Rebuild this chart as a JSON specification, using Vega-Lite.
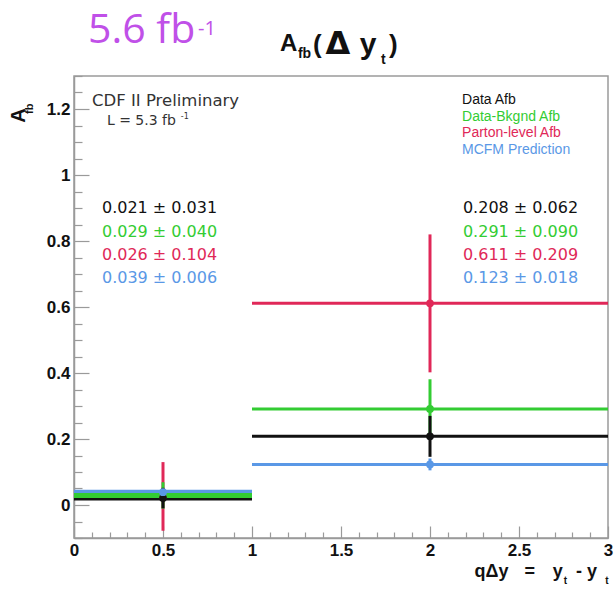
{
"$schema": "https://vega.github.io/schema/vega-lite/v6.json",
"width": 534,
"height": 462,
"autosize": {"type": "none"},
"padding": {"left": 74, "top": 76, "right": 7, "bottom": 54},
"background": "white",
"config": {
  "font": "Liberation Sans",
  "view": {"stroke": "#9a9a9a", "strokeWidth": 1.5},
  "axis": {"grid": false, "domainColor": "#9a9a9a", "domainWidth": 1.5, "tickColor": "#9a9a9a", "tickWidth": 1.2, "labelFont": "Liberation Sans", "labelFontWeight": "bold", "labelFontSize": 17, "labelColor": "#111111", "labelOverlap": false, "labelFlush": false}
},
"datasets": {
  "afb": [
    {"series": "Parton-level Afb", "bin": "1", "x": 0.5, "xlo": 0, "xhi": 1, "A": 0.026, "err": 0.104},
    {"series": "Parton-level Afb", "bin": "2", "x": 2, "xlo": 1, "xhi": 3, "A": 0.611, "err": 0.209},
    {"series": "MCFM Prediction", "bin": "1", "x": 0.5, "xlo": 0, "xhi": 1, "A": 0.039, "err": 0.006},
    {"series": "MCFM Prediction", "bin": "2", "x": 2, "xlo": 1, "xhi": 3, "A": 0.123, "err": 0.018},
    {"series": "Data Afb", "bin": "1", "x": 0.5, "xlo": 0, "xhi": 1, "A": 0.021, "err": 0.031},
    {"series": "Data Afb", "bin": "2", "x": 2, "xlo": 1, "xhi": 3, "A": 0.208, "err": 0.062},
    {"series": "Data-Bkgnd Afb", "bin": "1", "x": 0.5, "xlo": 0, "xhi": 1, "A": 0.029, "err": 0.040},
    {"series": "Data-Bkgnd Afb", "bin": "2", "x": 2, "xlo": 1, "xhi": 3, "A": 0.291, "err": 0.090}
  ],
  "legend": [
    {"series": "Data Afb", "label": "Data Afb", "x": 2.18, "y": 1.215},
    {"series": "Data-Bkgnd Afb", "label": "Data-Bkgnd Afb", "x": 2.18, "y": 1.164},
    {"series": "Parton-level Afb", "label": "Parton-level Afb", "x": 2.18, "y": 1.115},
    {"series": "MCFM Prediction", "label": "MCFM Prediction", "x": 2.18, "y": 1.064}
  ],
  "values": [
    {"series": "Data Afb", "label": "0.021 ± 0.031", "x": 0.157, "y": 0.885},
    {"series": "Data-Bkgnd Afb", "label": "0.029 ± 0.040", "x": 0.157, "y": 0.812},
    {"series": "Parton-level Afb", "label": "0.026 ± 0.104", "x": 0.157, "y": 0.742},
    {"series": "MCFM Prediction", "label": "0.039 ± 0.006", "x": 0.157, "y": 0.673},
    {"series": "Data Afb", "label": "0.208 ± 0.062", "x": 2.185, "y": 0.885},
    {"series": "Data-Bkgnd Afb", "label": "0.291 ± 0.090", "x": 2.185, "y": 0.812},
    {"series": "Parton-level Afb", "label": "0.611 ± 0.209", "x": 2.185, "y": 0.742},
    {"series": "MCFM Prediction", "label": "0.123 ± 0.018", "x": 2.185, "y": 0.673}
  ]
},
"layer": [
  {
    "data": {"name": "afb"},
    "mark": {"type": "rule"},
    "encoding": {
      "x": {"field": "xlo", "type": "quantitative", "scale": {"domain": [0, 3], "nice": false, "zero": false},
        "axis": {"title": null, "tickCount": 100, "values": [0,0.1,0.2,0.3,0.4,0.5,0.6,0.7,0.8,0.9,1,1.1,1.2,1.3,1.4,1.5,1.6,1.7,1.8,1.9,2,2.1,2.2,2.3,2.4,2.5,2.6,2.7,2.8,2.9,3],
          "labelExpr": "abs(datum.value*2-round(datum.value*2))<0.001 ? format(datum.value,'~g') : ''",
          "labelOverlap": false, "labelFlush": false, "labelBound": false, "labelAlign": "center", "labelBaseline": "top",
          "tickSize": {"condition": {"test": "abs(datum.value*2-round(datum.value*2))<0.001", "value": -12}, "value": -6},
          "labelPadding": 16}},
      "x2": {"field": "xhi"},
      "y": {"field": "A", "type": "quantitative", "scale": {"domain": [-0.1, 1.3], "nice": false, "zero": false},
        "axis": {"title": null, "tickCount": 100, "values": [-0.1,-0.05,0,0.05,0.1,0.15,0.2,0.25,0.3,0.35,0.4,0.45,0.5,0.55,0.6,0.65,0.7,0.75,0.8,0.85,0.9,0.95,1,1.05,1.1,1.15,1.2,1.25,1.3],
          "labelExpr": "abs(datum.value*5-round(datum.value*5))<0.001 ? format(datum.value,'~g') : ''",
          "labelOverlap": false, "labelFlush": false, "labelBound": false, "labelAlign": "right", "labelBaseline": "middle",
          "tickSize": {"condition": {"test": "abs(datum.value*5-round(datum.value*5))<0.001", "value": -15}, "value": -8},
          "labelPadding": 19}},
      "color": {"field": "series", "type": "nominal", "scale": {"domain": ["Data Afb", "Data-Bkgnd Afb", "Parton-level Afb", "MCFM Prediction"], "range": ["#111111", "#33cc33", "#e02858", "#5a98e6"]}, "legend": null},
      "strokeWidth": {"field": "bin", "type": "nominal", "scale": {"domain": ["1", "2"], "range": [5, 3]}, "legend": null}
    }
  },
  {
    "data": {"name": "afb"},
    "transform": [{"filter": "datum.series == 'Parton-level Afb' || datum.series == 'Data-Bkgnd Afb'"}],
    "mark": {"type": "errorbar", "thickness": 3},
    "encoding": {
      "x": {"field": "x", "type": "quantitative"},
      "y": {"field": "A", "type": "quantitative"},
      "yError": {"field": "err"},
      "color": {"field": "series", "type": "nominal", "legend": null}
    }
  },
  {
    "data": {"name": "afb"},
    "transform": [{"filter": "datum.series == 'Data Afb' || datum.series == 'MCFM Prediction'"}],
    "mark": {"type": "errorbar", "thickness": 3},
    "encoding": {
      "x": {"field": "x", "type": "quantitative"},
      "y": {"field": "A", "type": "quantitative"},
      "yError": {"field": "err"},
      "color": {"field": "series", "type": "nominal", "legend": null}
    }
  },
  {
    "data": {"name": "afb"},
    "mark": {"type": "point", "filled": true, "size": 60, "opacity": 1},
    "encoding": {
      "x": {"field": "x", "type": "quantitative"},
      "y": {"field": "A", "type": "quantitative"},
      "color": {"field": "series", "type": "nominal", "legend": null},
      "order": {"field": "err", "sort": "descending"}
    }
  },
  {
    "data": {"name": "legend"},
    "mark": {"type": "text", "font": "Liberation Sans", "fontSize": 14, "align": "left", "baseline": "alphabetic"},
    "encoding": {
      "x": {"field": "x", "type": "quantitative"},
      "y": {"field": "y", "type": "quantitative"},
      "text": {"field": "label"},
      "color": {"field": "series", "type": "nominal", "legend": null}
    }
  },
  {
    "data": {"name": "values"},
    "mark": {"type": "text", "font": "DejaVu Sans", "fontSize": 16, "align": "left", "baseline": "alphabetic"},
    "encoding": {
      "x": {"field": "x", "type": "quantitative"},
      "y": {"field": "y", "type": "quantitative"},
      "text": {"field": "label"},
      "color": {"field": "series", "type": "nominal", "legend": null}
    }
  },
  {"data": {"values": [{}]}, "mark": {"type": "text", "text": "CDF II Preliminary", "font": "DejaVu Sans", "fontSize": 16.5, "align": "left", "baseline": "alphabetic", "color": "#333333"},
   "encoding": {"x": {"datum": 0.101, "type": "quantitative", "title": null}, "y": {"datum": 1.209, "type": "quantitative", "title": null}}},
  {"data": {"values": [{}]}, "mark": {"type": "text", "text": "L = 5.3 fb", "font": "DejaVu Sans", "fontSize": 14, "align": "left", "baseline": "alphabetic", "color": "#333333"},
   "encoding": {"x": {"datum": 0.185, "type": "quantitative", "title": null}, "y": {"datum": 1.152, "type": "quantitative", "title": null}}},
  {"data": {"values": [{}]}, "mark": {"type": "text", "text": "-1", "font": "DejaVu Sans", "fontSize": 8, "align": "left", "baseline": "alphabetic", "color": "#333333"},
   "encoding": {"x": {"datum": 0.6, "type": "quantitative", "title": null}, "y": {"datum": 1.17, "type": "quantitative", "title": null}}},
  {"data": {"values": [{}]}, "mark": {"type": "text", "text": "5.6 fb", "font": "Open Sans", "fontSize": 41, "align": "left", "baseline": "alphabetic", "color": "#c050e8"},
   "encoding": {"x": {"datum": 0.079, "type": "quantitative", "title": null}, "y": {"datum": 1.4, "type": "quantitative", "title": null}}},
  {"data": {"values": [{}]}, "mark": {"type": "text", "text": "-1", "font": "Open Sans", "fontSize": 20, "align": "left", "baseline": "alphabetic", "color": "#c050e8"},
   "encoding": {"x": {"datum": 0.697, "type": "quantitative", "title": null}, "y": {"datum": 1.424, "type": "quantitative", "title": null}}},
  {"data": {"values": [{}]}, "mark": {"type": "text", "text": "A", "fontWeight": "bold", "fontSize": 24, "align": "left", "baseline": "alphabetic", "color": "#111111"},
   "encoding": {"x": {"datum": 1.157, "type": "quantitative", "title": null}, "y": {"datum": 1.376, "type": "quantitative", "title": null}}},
  {"data": {"values": [{}]}, "mark": {"type": "text", "text": "fb", "fontWeight": "bold", "fontSize": 14, "align": "left", "baseline": "alphabetic", "color": "#111111"},
   "encoding": {"x": {"datum": 1.258, "type": "quantitative", "title": null}, "y": {"datum": 1.356, "type": "quantitative", "title": null}}},
  {"data": {"values": [{}]}, "mark": {"type": "text", "text": "(", "fontWeight": "bold", "fontSize": 26, "align": "left", "baseline": "alphabetic", "color": "#111111"},
   "encoding": {"x": {"datum": 1.343, "type": "quantitative", "title": null}, "y": {"datum": 1.37, "type": "quantitative", "title": null}}},
  {"data": {"values": [{}]}, "mark": {"type": "text", "text": "Δ", "font": "DejaVu Sans", "fontWeight": "bold", "fontSize": 32, "align": "center", "baseline": "alphabetic", "color": "#111111"},
   "encoding": {"x": {"datum": 1.483, "type": "quantitative", "title": null}, "y": {"datum": 1.367, "type": "quantitative", "title": null}}},
  {"data": {"values": [{}]}, "mark": {"type": "text", "text": "y", "fontWeight": "bold", "fontSize": 30, "align": "center", "baseline": "alphabetic", "color": "#111111"},
   "encoding": {"x": {"datum": 1.652, "type": "quantitative", "title": null}, "y": {"datum": 1.367, "type": "quantitative", "title": null}}},
  {"data": {"values": [{}]}, "mark": {"type": "text", "text": "t", "fontWeight": "bold", "fontSize": 14, "align": "left", "baseline": "alphabetic", "color": "#111111"},
   "encoding": {"x": {"datum": 1.725, "type": "quantitative", "title": null}, "y": {"datum": 1.336, "type": "quantitative", "title": null}}},
  {"data": {"values": [{}]}, "mark": {"type": "text", "text": ")", "fontWeight": "bold", "fontSize": 26, "align": "left", "baseline": "alphabetic", "color": "#111111"},
   "encoding": {"x": {"datum": 1.77, "type": "quantitative", "title": null}, "y": {"datum": 1.37, "type": "quantitative", "title": null}}},
  {"data": {"values": [{}]}, "mark": {"type": "text", "text": "A", "fontWeight": "bold", "fontSize": 20, "angle": 270, "align": "left", "baseline": "alphabetic", "color": "#111111"},
   "encoding": {"x": {"datum": -0.275, "type": "quantitative", "title": null}, "y": {"datum": 1.158, "type": "quantitative", "title": null}}},
  {"data": {"values": [{}]}, "mark": {"type": "text", "text": "fb", "fontWeight": "bold", "fontSize": 11, "angle": 270, "align": "left", "baseline": "alphabetic", "color": "#111111"},
   "encoding": {"x": {"datum": -0.23, "type": "quantitative", "title": null}, "y": {"datum": 1.185, "type": "quantitative", "title": null}}},
  {"data": {"values": [{}]}, "mark": {"type": "text", "text": "qΔy", "fontWeight": "bold", "fontSize": 18, "align": "left", "baseline": "alphabetic", "color": "#111111"},
   "encoding": {"x": {"datum": 2.25, "type": "quantitative", "title": null}, "y": {"datum": -0.218, "type": "quantitative", "title": null}}},
  {"data": {"values": [{}]}, "mark": {"type": "text", "text": "=", "fontWeight": "bold", "fontSize": 18, "align": "center", "baseline": "alphabetic", "color": "#111111"},
   "encoding": {"x": {"datum": 2.56, "type": "quantitative", "title": null}, "y": {"datum": -0.218, "type": "quantitative", "title": null}}},
  {"data": {"values": [{}]}, "mark": {"type": "text", "text": "y", "fontWeight": "bold", "fontSize": 18, "align": "left", "baseline": "alphabetic", "color": "#111111"},
   "encoding": {"x": {"datum": 2.69, "type": "quantitative", "title": null}, "y": {"datum": -0.218, "type": "quantitative", "title": null}}},
  {"data": {"values": [{}]}, "mark": {"type": "text", "text": "t", "fontWeight": "bold", "fontSize": 10, "align": "left", "baseline": "alphabetic", "color": "#111111"},
   "encoding": {"x": {"datum": 2.752, "type": "quantitative", "title": null}, "y": {"datum": -0.238, "type": "quantitative", "title": null}}},
  {"data": {"values": [{}]}, "mark": {"type": "text", "text": "- y", "fontWeight": "bold", "fontSize": 18, "align": "left", "baseline": "alphabetic", "color": "#111111"},
   "encoding": {"x": {"datum": 2.82, "type": "quantitative", "title": null}, "y": {"datum": -0.218, "type": "quantitative", "title": null}}},
  {"data": {"values": [{}]}, "mark": {"type": "text", "text": "t", "fontWeight": "bold", "fontSize": 10, "align": "left", "baseline": "alphabetic", "color": "#111111"},
   "encoding": {"x": {"datum": 2.985, "type": "quantitative", "title": null}, "y": {"datum": -0.238, "type": "quantitative", "title": null}}}
]
}
